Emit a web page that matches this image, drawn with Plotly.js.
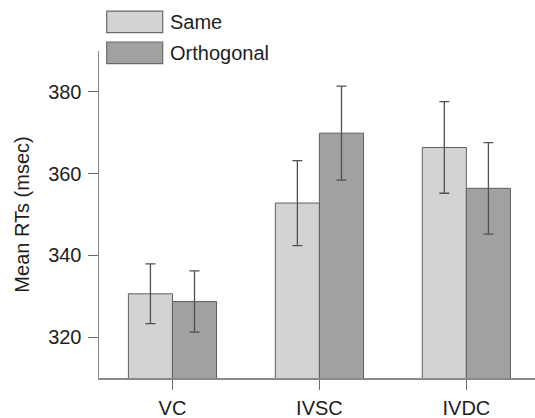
<!DOCTYPE html>
<html>
<head>
<meta charset="utf-8">
<script src="https://cdn.plot.ly/plotly-3.0.1.min.js"></script>
<style>html,body{margin:0;padding:0;background:#fff;}#chart{width:535px;height:418px;}</style>
</head>
<body>
<div id="chart"></div>
<script>
const categories = ["VC", "IVSC", "IVDC"];
const seriesNames = ["Same", "Orthogonal"];
const sameMeans = [330.6, 352.8, 366.4];
const sameErrors = [7.3, 10.4, 11.2];
const orthoMeans = [328.7, 369.9, 356.4];
const orthoErrors = [7.5, 11.5, 11.2];
const yTickVals = [320, 340, 360, 380];

const fills = ["#d3d3d3", "#a1a1a1"];
const L = 99, R = 535, T = 50.7, B = 378.3;
const W = 535, H = 418;
const px2x = p => (p - L) / (R - L);
const py2y = p => (B - p) / (B - T);

function barTrace(name, y, err, color) {
  return {
    type: "bar", name: name, x: categories, y: y,
    marker: {color: color, line: {color: "#5f5f5f", width: 1}},
    error_y: {type: "data", array: err, visible: true, color: "#505050", thickness: 1.3, width: 5}
  };
}

const data = [
  barTrace(seriesNames[0], sameMeans, sameErrors, fills[0]),
  barTrace(seriesNames[1], orthoMeans, orthoErrors, fills[1])
];

const legendTops = [10.7, 41.7];
const shapes = [], annotations = [];
seriesNames.forEach((n, i) => {
  shapes.push({type: "rect", xref: "paper", yref: "paper",
    x0: px2x(106.7), x1: px2x(162.7), y0: py2y(legendTops[i] + 21.6), y1: py2y(legendTops[i]),
    fillcolor: fills[i], line: {color: "#6a6a6a", width: 1.2}});
  annotations.push({xref: "paper", yref: "paper", x: px2x(168), y: py2y(legendTops[i] + 11),
    xanchor: "left", yanchor: "middle", showarrow: false, text: n,
    font: {family: "Liberation Sans, Arial, sans-serif", size: 20, color: "#1e1e1e"}});
});

const layout = {
  width: W, height: H,
  margin: {l: L, r: W - R, t: T, b: H - B, pad: 0},
  paper_bgcolor: "#fff", plot_bgcolor: "#fff",
  showlegend: false,
  barmode: "group", bargap: 0.4, bargroupgap: 0,
  font: {family: "Liberation Sans, Arial, sans-serif", size: 20, color: "#1e1e1e"},
  xaxis: {
    type: "category", range: [-0.5, 2.467], showgrid: false, zeroline: false,
    showline: true, linecolor: "#8a8a8a", linewidth: 1.5,
    ticks: "outside", ticklen: 10, tickcolor: "#6a6a6a", tickwidth: 1.2,
    ticklabelstandoff: 1,
    tickfont: {size: 20, color: "#1e1e1e"}
  },
  yaxis: {
    range: [310, 390], showgrid: false, zeroline: false,
    showline: true, linecolor: "#8a8a8a", linewidth: 1.5,
    ticks: "outside", ticklen: 10, tickcolor: "#6a6a6a", tickwidth: 1.2,
    ticklabelstandoff: 2,
    tickvals: yTickVals, ticktext: yTickVals.map(String),
    tickfont: {size: 20, color: "#1e1e1e"},
    title: {text: "Mean RTs (msec)", font: {size: 20, color: "#1e1e1e"}, standoff: 13}
  },
  shapes: shapes, annotations: annotations
};

Plotly.newPlot("chart", data, layout, {displayModeBar: false, staticPlot: true});
</script>
</body>
</html>
